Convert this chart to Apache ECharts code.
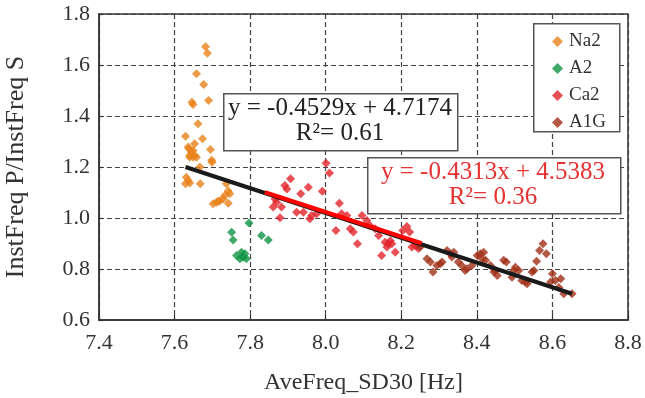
<!DOCTYPE html>
<html>
<head>
<meta charset="utf-8">
<script src="https://cdn.jsdelivr.net/npm/echarts@6/dist/echarts.min.js"></script>
<style>html,body{margin:0;padding:0;background:#fff;}#c{width:645px;height:398px;}</style>
</head>
<body>
<div id="c"></div>
<script>
// Data
var xTicks = [7.4, 7.6, 7.8, 8.0, 8.2, 8.4, 8.6, 8.8];
var yTicks = [0.6, 0.8, 1.0, 1.2, 1.4, 1.6, 1.8];
var seriesNames = ['Na2', 'A2', 'Ca2', 'A1G'];

var na2X = [7.682,7.687,7.658,7.677,7.646,7.649,7.690,7.662,7.629,7.674,7.653,7.638,7.645,7.640,7.649,7.695,7.698,7.667,7.631,7.636,7.629,7.640,7.668,7.636,7.649,7.653,7.699,7.737,7.746,7.733,7.728,7.720,7.711,7.702,7.742,7.640,7.658,7.742,7.716];
var na2Y = [1.672,1.646,1.566,1.524,1.454,1.445,1.461,1.370,1.321,1.311,1.291,1.272,1.258,1.245,1.238,1.269,1.226,1.200,1.160,1.147,1.134,1.137,1.134,1.278,1.265,1.245,1.219,1.134,1.095,1.088,1.075,1.068,1.062,1.056,1.058,1.238,1.238,1.106,1.066];

var a2X = [7.797,7.751,7.755,7.830,7.848,7.764,7.777,7.781,7.773,7.790,7.786];
var a2Y = [0.980,0.944,0.914,0.931,0.914,0.853,0.866,0.846,0.840,0.840,0.860];

var ca2X = [8.001,8.010,7.907,7.892,7.897,7.934,7.954,7.991,7.866,7.870,7.861,7.883,7.923,7.941,7.963,7.976,7.958,7.879,8.036,8.042,8.056,8.027,8.065,8.073,8.084,8.096,8.109,8.117,8.131,8.140,8.157,8.166,8.162,8.148,8.184,8.204,8.215,8.222,8.228,8.241,8.171,8.175,8.237,8.245];
var ca2Y = [1.215,1.176,1.154,1.127,1.114,1.095,1.121,1.105,1.075,1.062,1.043,1.043,1.023,1.023,1.010,1.017,0.997,1.001,1.058,1.017,1.010,0.951,0.958,0.945,0.899,1.010,0.990,0.971,0.958,0.931,0.905,0.899,0.886,0.853,0.866,0.951,0.967,0.945,0.886,0.892,0.911,0.899,0.892,0.880];

var a1gX = [8.250,8.268,8.277,8.284,8.294,8.303,8.308,8.321,8.330,8.339,8.334,8.351,8.360,8.369,8.374,8.387,8.401,8.409,8.418,8.414,8.423,8.436,8.445,8.454,8.449,8.471,8.478,8.498,8.502,8.511,8.493,8.519,8.528,8.533,8.546,8.551,8.558,8.566,8.575,8.584,8.600,8.608,8.622,8.595,8.617,8.630,8.652];
var a1gY = [0.886,0.840,0.827,0.788,0.814,0.821,0.827,0.873,0.860,0.866,0.847,0.827,0.814,0.794,0.801,0.814,0.853,0.860,0.866,0.840,0.834,0.814,0.788,0.775,0.794,0.834,0.827,0.794,0.807,0.794,0.768,0.755,0.749,0.742,0.788,0.794,0.830,0.873,0.899,0.860,0.781,0.755,0.762,0.749,0.727,0.703,0.703];

// Trend lines as drawn (end points)
var blackLineX = [7.629, 8.652];
var blackLineY = [1.200, 0.703];
var redLineX = [7.839, 8.254];
var redLineY = [1.101, 0.901];

var eqBlack = ['y = -0.4529x + 4.7174', 'R\u00B2= 0.61'];
var eqRed = ['y = -0.4313x + 4.5383', 'R\u00B2= 0.36'];

function zip(xs, ys) {
  var out = [];
  for (var i = 0; i < Math.min(xs.length, ys.length); i++) out.push([xs[i], ys[i]]);
  return out;
}

var FONT = '"Liberation Serif", "Times New Roman", serif';
var colors = ['#E9821A', '#0F9444', '#E2242A', '#A03018'];

var chart = echarts.init(document.getElementById('c'), null, {renderer: 'canvas'});
var gridDash = {color: '#444', type: [5, 3], width: 1.2};

function sc(name, xs, ys, color) {
  return {
    name: name, type: 'scatter', symbol: 'diamond', symbolSize: 9,
    itemStyle: {color: color}, data: zip(xs, ys), z: 3
  };
}

var option = {
  animation: false,
  grid: {left: 99, right: 17, top: 14, bottom: 78, show: true, borderColor: '#333', borderWidth: 1.5, backgroundColor: 'transparent', outerBoundsMode: 'none', containLabel: false},
  xAxis: {
    type: 'value', min: xTicks[0], max: xTicks[xTicks.length - 1], interval: 0.2,
    name: 'AveFreq_SD30 [Hz]', nameLocation: 'middle', nameGap: 51, nameMoveOverlap: false,
    nameTextStyle: {fontFamily: FONT, fontSize: 24, color: '#333'},
    axisLine: {lineStyle: {color: '#333', width: 1.5}},
    axisTick: {inside: true, length: 5, lineStyle: {color: '#333', width: 1.2}},
    axisLabel: {fontFamily: FONT, fontSize: 22, color: '#333', margin: 12, formatter: function (v) { return v.toFixed(1); }},
    splitLine: {show: true, lineStyle: gridDash}
  },
  yAxis: {
    type: 'value', min: yTicks[0], max: yTicks[yTicks.length - 1], interval: 0.2,
    name: 'InstFreq P/InstFreq S', nameLocation: 'middle', nameGap: 70, nameRotate: 90, nameMoveOverlap: false,
    nameTextStyle: {fontFamily: FONT, fontSize: 26, color: '#333'},
    axisLine: {lineStyle: {color: '#333', width: 1.5}},
    axisTick: {inside: true, length: 4, lineStyle: {color: '#333', width: 1.2}},
    axisLabel: {fontFamily: FONT, fontSize: 22, color: '#333', margin: 9, formatter: function (v) { return v.toFixed(1); }},
    splitLine: {show: true, lineStyle: gridDash}
  },
  legend: {
    data: seriesNames.map(function (n) { return {name: n, icon: 'diamond'}; }),
    orient: 'vertical', left: 547, top: 27, itemWidth: 11, itemHeight: 11, itemGap: 8,
    textStyle: {fontFamily: FONT, fontSize: 19, color: '#333', lineHeight: 18, padding: [0, 0, 0, 1]}
  },
  series: [
    sc(seriesNames[0], na2X, na2Y, colors[0]),
    sc(seriesNames[1], a2X, a2Y, colors[1]),
    sc(seriesNames[2], ca2X, ca2Y, colors[2]),
    sc(seriesNames[3], a1gX, a1gY, colors[3]),
    {type: 'line', data: zip(blackLineX, blackLineY), symbol: 'none', lineStyle: {color: '#1a1a1a', width: 4}, z: 4, silent: true},
    {type: 'line', data: zip(redLineX, redLineY), symbol: 'none', lineStyle: {color: '#FF0000', width: 4}, z: 5, silent: true}
  ],
  graphic: [
    {type: 'rect', left: 533, top: 23, shape: {width: 86, height: 108}, style: {fill: '#fff', stroke: '#555', lineWidth: 1.5}, z: 1},
    {type: 'rect', left: 223, top: 93, shape: {width: 234, height: 57}, style: {fill: '#fff', stroke: '#555', lineWidth: 1.5}, z: 10},
    {type: 'text', z: 11, style: {text: eqBlack[0], x: 0, y: 0, font: '25px ' + FONT, fill: '#222', textAlign: 'center'}, position: [340, 96]},
    {type: 'text', z: 11, style: {text: eqBlack[1], x: 0, y: 0, font: '25px ' + FONT, fill: '#222', textAlign: 'center'}, position: [340, 121]},
    {type: 'rect', left: 367, top: 157, shape: {width: 253, height: 56}, style: {fill: '#fff', stroke: '#555', lineWidth: 1.5}, z: 10},
    {type: 'text', z: 11, style: {text: eqRed[0], x: 0, y: 0, font: '25px ' + FONT, fill: '#E53232', textAlign: 'center'}, position: [493, 160]},
    {type: 'text', z: 11, style: {text: eqRed[1], x: 0, y: 0, font: '25px ' + FONT, fill: '#E53232', textAlign: 'center'}, position: [493, 185]}
  ]
};
chart.setOption(option);
</script>
</body>
</html>
